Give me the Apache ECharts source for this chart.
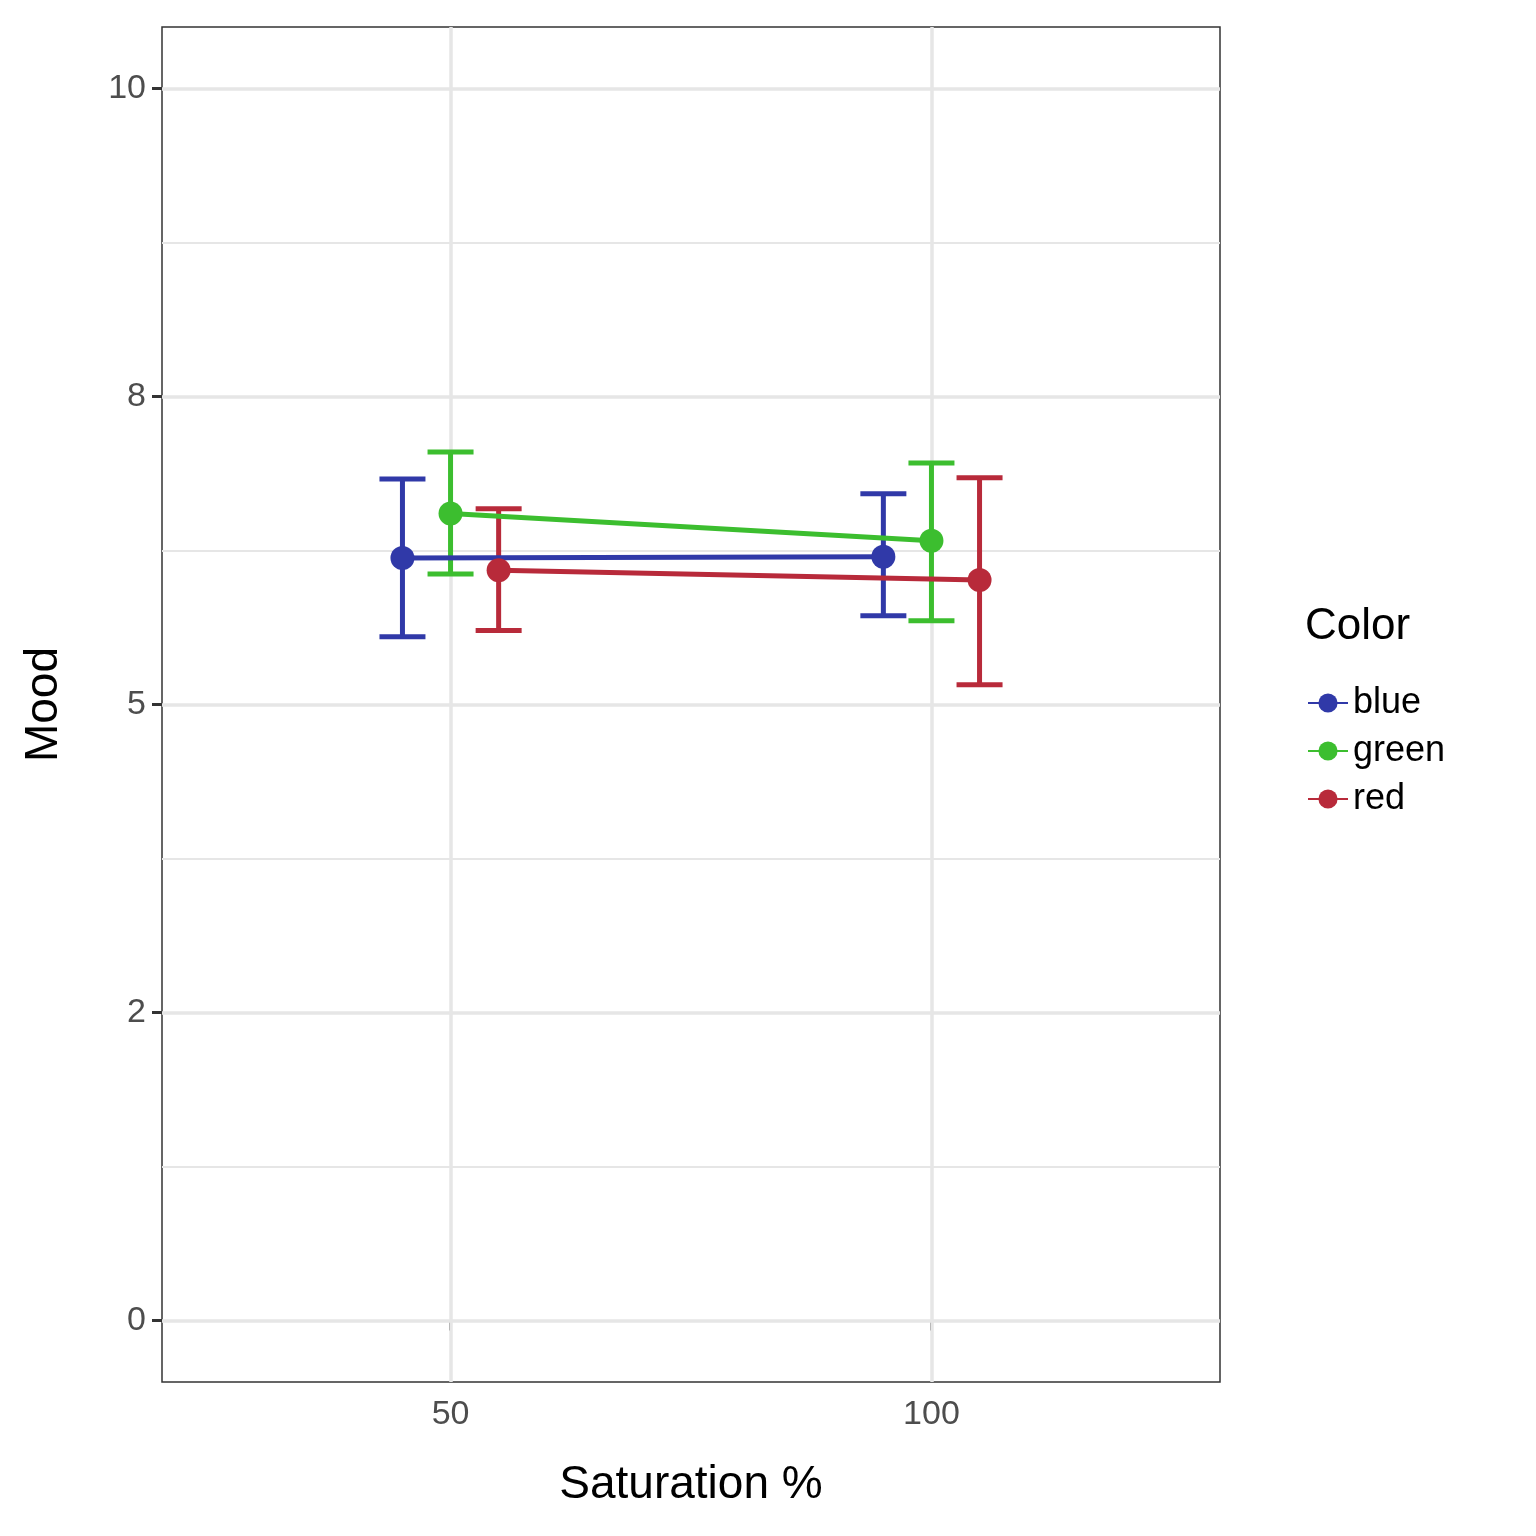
<!DOCTYPE html>
<html>
<head>
<meta charset="utf-8">
<script src="https://cdn.jsdelivr.net/npm/echarts@6/dist/echarts.min.js"></script>
<style>html,body{margin:0;padding:0;background:#fff}#main{width:1536px;height:1536px}</style>
</head>
<body>
<div id="main"></div>
<script>
// data
var names = ['blue', 'green', 'red'];
var colors = ['#3039A8', '#3CBE2F', '#B82A3A'];
var xs = [[45, 95], [50, 100], [55, 105]];
var means = [[6.19, 6.20], [6.55, 6.33], [6.09, 6.01]];
var lows = [[5.55, 5.72], [6.06, 5.68], [5.60, 5.16]];
var highs = [[6.83, 6.71], [7.05, 6.96], [6.59, 6.84]];
var xTicks = [50, 100];
var yTicks = [0, 2.5, 5, 7.5, 10];
var yMinor = [1.25, 3.75, 6.25, 8.75];
var yLabels = {0: '0', 2.5: '2', 5: '5', 7.5: '8', 10: '10'};

var chart = echarts.init(document.getElementById('main'));
var font = 'Liberation Sans, Arial, sans-serif';

var series = [];
// gridlines
var gridMarks = [];
xTicks.forEach(function (v) { gridMarks.push({xAxis: v, lineStyle: {width: 3.5}}); });
yTicks.forEach(function (v) { gridMarks.push({yAxis: v, lineStyle: {width: 3.5}}); });
yMinor.forEach(function (v) { gridMarks.push({yAxis: v, lineStyle: {width: 1.8}}); });
series.push({
  type: 'line', data: [], silent: true, z: 0,
  markLine: {silent: true, symbol: 'none', label: {show: false},
    lineStyle: {color: '#E6E6E6', type: 'solid'}, data: gridMarks, animation: false}
});

names.forEach(function (n, i) {
  series.push({
    name: n, type: 'line', zlevel: 1, z: 3,
    data: xs[i].map(function (x, j) { return [x, means[i][j]]; }),
    symbol: 'circle', symbolSize: 24,
    lineStyle: {color: colors[i], width: 5},
    itemStyle: {color: colors[i]}
  });
  series.push({
    name: n, type: 'custom', zlevel: 1, z: 2,
    data: xs[i].map(function (x, j) { return [x, lows[i][j], highs[i][j]]; }),
    renderItem: function (params, api) {
      var lo = api.coord([api.value(0), api.value(1)]);
      var hi = api.coord([api.value(0), api.value(2)]);
      var w = 23;
      var st = {stroke: colors[i], lineWidth: 5};
      return {type: 'group', children: [
        {type: 'line', shape: {x1: lo[0], y1: lo[1], x2: hi[0], y2: hi[1]}, style: st},
        {type: 'line', shape: {x1: lo[0] - w, y1: lo[1], x2: lo[0] + w, y2: lo[1]}, style: st},
        {type: 'line', shape: {x1: hi[0] - w, y1: hi[1], x2: hi[0] + w, y2: hi[1]}, style: st}
      ]};
    }
  });
});

chart.setOption({
  animation: false,
  textStyle: {fontFamily: font},
  title: {text: 'Color', left: 1300, top: 600, textStyle: {fontSize: 44, fontWeight: 'normal', color: '#000', fontFamily: font}},
  legend: {
    data: names, orient: 'vertical', left: 1302, top: 680, itemWidth: 40, itemHeight: 24, itemGap: 12,
    textStyle: {fontSize: 36, color: '#000', fontFamily: font}
  },
  grid: {left: 162, right: 316, top: 27, bottom: 154, show: true, borderColor: '#333', borderWidth: 1.5, backgroundColor: '#fff'},
  xAxis: {
    type: 'value', min: 20, max: 130,
    name: 'Saturation %', nameLocation: 'middle', nameGap: 80,
    nameTextStyle: {fontSize: 46, color: '#000'},
    splitLine: {show: false},
    axisLine: {show: false},
    axisTick: {show: true, length: 10, lineStyle: {color: '#333', width: 3}, customValues: xTicks},
    axisLabel: {fontSize: 34, color: '#4D4D4D', margin: 16, customValues: xTicks}
  },
  yAxis: {
    type: 'value', min: -0.5, max: 10.5,
    name: 'Mood', nameLocation: 'middle', nameGap: 95, nameRotate: 90,
    nameTextStyle: {fontSize: 46, color: '#000'},
    splitLine: {show: false},
    axisLine: {show: false},
    axisTick: {show: true, length: 10, lineStyle: {color: '#333', width: 3}, customValues: yTicks},
    axisLabel: {fontSize: 34, color: '#4D4D4D', margin: 16, customValues: yTicks,
      formatter: function (v) { return yLabels[v] !== undefined ? yLabels[v] : ''; }}
  },
  series: series
});
</script>
</body>
</html>
